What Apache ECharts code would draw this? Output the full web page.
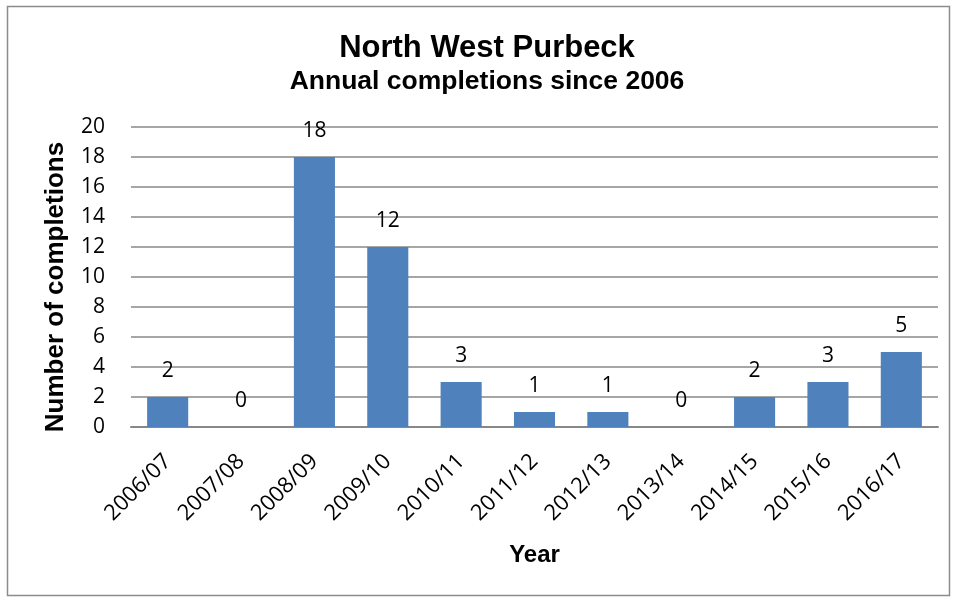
<!DOCTYPE html>
<html>
<head>
<meta charset="utf-8">
<script src="https://cdn.jsdelivr.net/npm/echarts@6/dist/echarts.min.js"></script>
<style>
  html, body { margin: 0; padding: 0; background: #fff; }
  #chart { width: 956px; height: 599px; }
</style>
</head>
<body>
<div id="chart"></div>
<script>
// Financial years and completions per year
const years = ['2006/07', '2007/08', '2008/09', '2009/10', '2010/11', '2011/12',
               '2012/13', '2013/14', '2014/15', '2015/16', '2016/17'];
const completions = [2, 0, 18, 12, 3, 1, 1, 0, 2, 3, 5];
const yTicks = { min: 0, max: 20, interval: 2 };

const chart = echarts.init(document.getElementById('chart'), null, { renderer: 'canvas' });

const labelFont = '"Open Sans", "Noto Sans", sans-serif';
const boldFont = '"Liberation Sans", Arial, sans-serif';

chart.setOption({
  animation: false,
  backgroundColor: '#ffffff',
  graphic: [{
    type: 'rect',
    shape: { x: 7.5, y: 6.5, width: 942, height: 589 },
    style: { fill: 'none', stroke: '#8c8c8c', lineWidth: 1.5 },
    silent: true
  }],
  title: {
    text: 'North West Purbeck',
    subtext: 'Annual completions since 2006',
    left: 482,
    textAlign: 'center',
    top: 28,
    padding: 5,
    itemGap: 4,
    textStyle: { fontFamily: boldFont, fontWeight: 'bold', fontSize: 31, color: '#000' },
    subtextStyle: { fontFamily: boldFont, fontWeight: 'bold', fontSize: 26.5, color: '#000' }
  },
  grid: { left: 131, right: 18, top: 127, bottom: 172, containLabel: false },
  xAxis: {
    type: 'category',
    data: years,
    name: 'Year',
    nameLocation: 'middle',
    nameGap: 116,
    nameTextStyle: { fontFamily: boldFont, fontWeight: 'bold', fontSize: 24, color: '#000' },
    axisLine: { show: true, lineStyle: { color: '#888', width: 2 } },
    axisTick: { show: false },
    axisLabel: {
      rotate: 45,
      interval: 0,
      margin: 31,
      fontFamily: labelFont,
      fontSize: 22,
      color: '#000'
    }
  },
  yAxis: {
    type: 'value',
    min: yTicks.min,
    max: yTicks.max,
    interval: yTicks.interval,
    name: 'Number of completions',
    nameLocation: 'middle',
    nameGap: 62,
    nameRotate: 90,
    nameTextStyle: {
      fontFamily: boldFont, fontWeight: 'bold', fontSize: 26, color: '#000',
      padding: [0, 20, 0, 0]
    },
    axisLine: { show: false },
    axisTick: { show: false },
    axisLabel: { margin: 26, fontFamily: labelFont, fontSize: 21, color: '#000' },
    splitLine: { show: true, lineStyle: { color: '#888', width: 1.5 } }
  },
  series: [{
    type: 'bar',
    data: completions,
    barWidth: '56%',
    itemStyle: { color: '#4f81bd' },
    label: {
      show: true,
      position: 'top',
      distance: 15,
      fontFamily: labelFont,
      fontSize: 21,
      color: '#000'
    }
  }]
});
</script>
</body>
</html>
